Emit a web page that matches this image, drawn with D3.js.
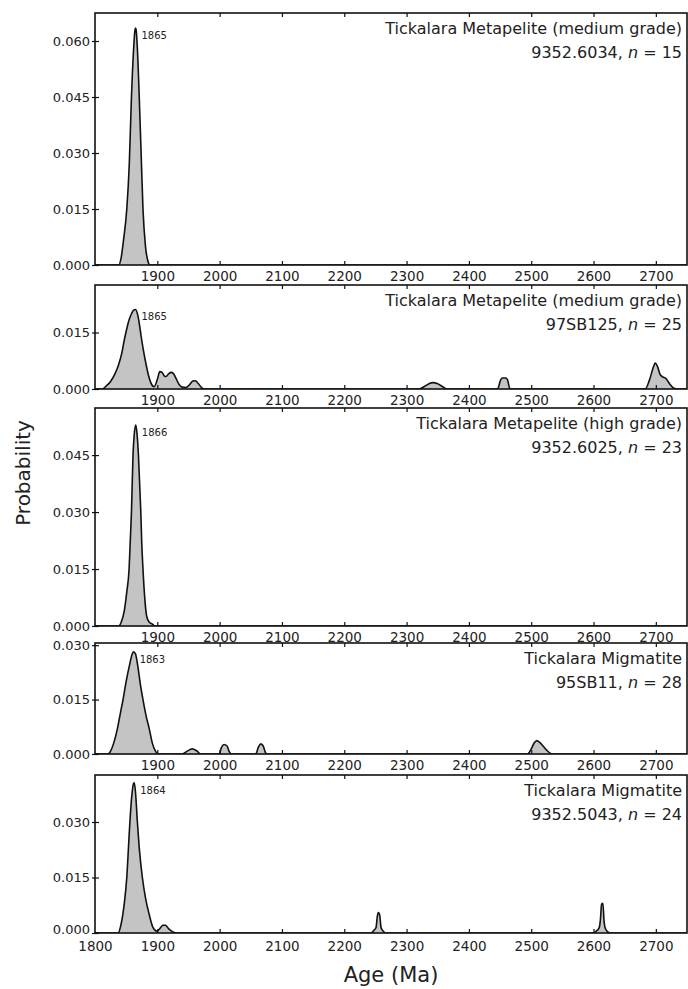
<!DOCTYPE html>
<html><head><meta charset="utf-8">
<script src="https://cdn.jsdelivr.net/npm/d3@7"></script>
<style>
html,body{margin:0;padding:0;background:#fff;}
svg{display:block;}
text{font-family:"DejaVu Sans",sans-serif;fill:#222;}
</style></head>
<body>
<script>
// ---------- data ----------
const sampleNames = ["Tickalara Metapelite (medium grade)", "Tickalara Metapelite (medium grade)", "Tickalara Metapelite (high grade)", "Tickalara Migmatite", "Tickalara Migmatite"];
const sampleIds = ["9352.6034", "97SB125", "9352.6025", "95SB11", "9352.5043"];
const sampleN = [15, 25, 23, 28, 24];
const peakLabels = ["1865", "1865", "1866", "1863", "1864"];
const yMaxes = [0.0675, 0.0276, 0.0574, 0.0306, 0.0427];
const yTickSets = [[0, 0.015, 0.03, 0.045, 0.06], [0, 0.015], [0, 0.015, 0.03, 0.045], [0, 0.015, 0.03], [0, 0.015, 0.03]];
const xTicksUpper = [1900, 2000, 2100, 2200, 2300, 2400, 2500, 2600, 2700];
const xTicksLower = [1800, 1900, 2000, 2100, 2200, 2300, 2400, 2500, 2600, 2700];
const ageDomain = [1800, 2750];

const curve6034 = [[1800,0],[1838,0],[1842,0.002],[1846,0.007],[1851,0.015],[1855,0.027],[1858.5,0.045],[1862,0.058],[1864,0.0628],[1865,0.0635],[1866,0.063],[1868,0.058],[1871,0.045],[1874,0.030],[1877,0.015],[1881,0.005],[1885,0.001],[1888,0],[2750,0]];
const curve97SB125 = [[1800,0],[1812,0],[1818,0.0008],[1825,0.002],[1832,0.004],[1838,0.0065],[1843,0.0095],[1847,0.013],[1851,0.016],[1855,0.0185],[1859,0.0201],[1862,0.0209],[1865,0.0211],[1868,0.0200],[1871,0.0175],[1874,0.014],[1878,0.010],[1882,0.0065],[1886,0.0035],[1890,0.0015],[1895,0.0006],[1900,0.0025],[1904,0.0046],[1907,0.0045],[1911,0.0035],[1914,0.0033],[1918,0.0040],[1922,0.0044],[1926,0.0041],[1930,0.0028],[1935,0.0012],[1940,0.0005],[1946,0.0004],[1952,0.0012],[1957,0.0021],[1961,0.0022],[1966,0.0014],[1971,0.0004],[1976,0],[2320,0],[2328,0.0006],[2336,0.0014],[2342,0.0017],[2350,0.0014],[2358,0.0006],[2365,0],[2446,0],[2451,0.0024],[2454,0.0029],[2459,0.0029],[2462,0.0024],[2466,0],[2683,0],[2690,0.0025],[2696,0.0058],[2699,0.0069],[2703,0.0058],[2707,0.0038],[2711,0.0032],[2716,0.0028],[2722,0.0014],[2729,0.0002],[2735,0],[2750,0]];
const curve6025 = [[1800,0],[1838,0],[1842,0.001],[1847,0.004],[1851,0.009],[1854.7,0.015],[1857,0.024],[1858.5,0.030],[1861,0.045],[1863,0.0505],[1865.5,0.0529],[1867.5,0.0505],[1869.7,0.045],[1872,0.036],[1873.5,0.030],[1875,0.022],[1877,0.015],[1880,0.007],[1883,0.0025],[1887,0.001],[1892,0.0005],[1896,0],[2750,0]];
const curve95SB11 = [[1800,0],[1820,0],[1825,0.0008],[1830,0.003],[1836,0.007],[1841,0.0115],[1845,0.015],[1850,0.020],[1856,0.025],[1860,0.0277],[1862,0.0282],[1865,0.0276],[1868,0.025],[1873,0.019],[1877,0.015],[1882,0.0105],[1887,0.007],[1892,0.003],[1897,0.0008],[1902,0],[1940,0],[1948,0.0008],[1956,0.0014],[1963,0.0009],[1970,0],[1999,0],[2003,0.0018],[2007,0.0026],[2012,0.0022],[2015,0.0008],[2019,0],[2058,0],[2062,0.0018],[2066,0.0028],[2070,0.0022],[2073,0.0006],[2076,0],[2494,0],[2500,0.0014],[2505,0.0031],[2509,0.0037],[2516,0.0028],[2524,0.0012],[2534,0],[2750,0]];
const curve5043 = [[1800,0],[1837,0],[1842,0.0025],[1847,0.008],[1851,0.015],[1854,0.024],[1856,0.030],[1859,0.037],[1862,0.0405],[1863,0.0406],[1865,0.038],[1868,0.030],[1871,0.023],[1876,0.015],[1881,0.0095],[1887,0.005],[1893,0.0015],[1899,0.0005],[1904,0.0012],[1909,0.0021],[1913,0.0021],[1918,0.0012],[1925,0.0003],[1932,0],[2243,0],[2248,0.0008],[2251,0.0015],[2253,0.0045],[2255,0.0055],[2257,0.0047],[2259,0.0015],[2263,0.0004],[2267,0],[2599,0],[2605,0.0006],[2609,0.0014],[2611,0.0035],[2613,0.0078],[2615,0.0080],[2617,0.003],[2619,0.0012],[2623,0.0003],[2627,0],[2750,0]];
const curves = [curve6034, curve97SB125, curve6025, curve95SB11, curve5043];

// ---------- layout ----------
const W = 688, H = 989;
const left = 95, right = 687;
const tops = [13, 285, 408, 643, 775];
const bottoms = [265, 389, 626, 754, 933];

const svg = d3.select("body").append("svg").attr("width", W).attr("height", H);
const x = d3.scaleLinear().domain(ageDomain).range([left, right]);

curves.forEach((data, i) => {
  const isLast = i === curves.length - 1;
  const y = d3.scaleLinear().domain([0, yMaxes[i]]).range([bottoms[i], tops[i]]);
  const g = svg.append("g");
  const clipId = "clip" + i;
  svg.append("clipPath").attr("id", clipId).append("rect")
    .attr("x", left).attr("y", tops[i]).attr("width", right - left).attr("height", bottoms[i] - tops[i]);

  const area = d3.area().x(d => x(d[0])).y0(y(0)).y1(d => y(d[1])).curve(d3.curveMonotoneX);
  const line = d3.line().x(d => x(d[0])).y(d => y(d[1])).curve(d3.curveMonotoneX);
  const pg = g.append("g").attr("clip-path", `url(#${clipId})`);
  pg.append("path").datum(data).attr("d", area).attr("fill", "#c4c4c4");
  pg.append("path").datum(data).attr("d", line).attr("fill", "none").attr("stroke", "#111").attr("stroke-width", 1.6).attr("stroke-linejoin", "round");

  // axes
  const xt = isLast ? xTicksLower : xTicksUpper;
  const bAx = g.append("g").attr("transform", `translate(0,${bottoms[i]})`)
    .call(d3.axisBottom(x).tickValues(xt).tickSize(-4).tickPadding(isLast ? 8 : 6).tickFormat(d3.format("d")));
  const tAx = g.append("g").attr("transform", `translate(0,${tops[i]})`)
    .call(d3.axisTop(x).tickValues(xTicksUpper).tickSize(-4).tickFormat(""));
  const lAx = g.append("g").attr("transform", `translate(${left},0)`)
    .call(d3.axisLeft(y).tickValues(yTickSets[i]).tickSize(-4).tickPadding(5).tickFormat(d3.format(".3f")));
  [bAx, tAx, lAx].forEach(a => {
    a.select(".domain").remove();
    a.selectAll(".tick line").attr("stroke", "#111").attr("stroke-width", 1.2);
    a.selectAll("text").attr("font-size", 13.5).attr("font-family", "DejaVu Sans").attr("fill", "#222");
  });
  lAx.selectAll("text").attr("font-size", 13);
  lAx.selectAll(".tick line").attr("x1", -3).attr("x2", 4);
  if (isLast) {
    lAx.selectAll(".tick").filter(d => d === 0).select("text").attr("dy", "0.05em");
  }
  bAx.selectAll(".tick").filter(d => d === 1800).select("line").remove();

  // frame
  g.append("rect").attr("x", left).attr("y", tops[i]).attr("width", right - left).attr("height", bottoms[i] - tops[i])
    .attr("fill", "none").attr("stroke", "#111").attr("stroke-width", 1.6);

  // title
  g.append("text").attr("x", right - 5).attr("y", tops[i] + 21).attr("text-anchor", "end")
    .attr("font-size", 16).text(sampleNames[i]);
  const t2 = g.append("text").attr("x", right - 5).attr("y", tops[i] + 45).attr("text-anchor", "end").attr("font-size", 16);
  t2.append("tspan").text(sampleIds[i] + ", ");
  t2.append("tspan").attr("font-style", "italic").text("n");
  t2.append("tspan").text(" = " + sampleN[i]);

  // peak label
  const pk = data.reduce((a, b) => b[1] > a[1] ? b : a);
  g.append("text").attr("x", x(pk[0]) + 6).attr("y", y(pk[1]) + 11).attr("font-size", 10).text(peakLabels[i]);
});

svg.append("text").attr("x", 391).attr("y", 982).attr("text-anchor", "middle").attr("font-size", 21).text("Age (Ma)");
svg.append("text").attr("transform", "translate(30,473) rotate(-90)").attr("text-anchor", "middle").attr("font-size", 20).text("Probability");
</script>
</body></html>
